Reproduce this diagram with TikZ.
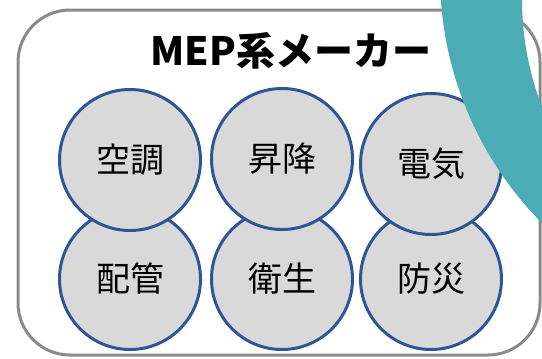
\documentclass[tikz,border=0pt]{standalone}
\usepackage{fontspec}
\newfontfamily\cjk{Noto Sans CJK JP}
\definecolor{framegray}{HTML}{8A8A8A}
\definecolor{ringblue}{HTML}{2F5597}
\definecolor{discgray}{HTML}{D9D9D9}
\definecolor{bandteal}{HTML}{4BACB6}
\tikzset{
  field/.style={circle, draw=ringblue, fill=discgray, line width=3bp,
    minimum size=141bp, inner sep=0pt, font=\cjk\fontsize{34bp}{36bp}\selectfont},
  frame/.style={draw=framegray, line width=3bp, rounded corners=52bp},
}
\begin{document}
\begin{tikzpicture}[x=1bp,y=-1bp]
\useasboundingbox (0,0) rectangle (542,358);
% outer frame
\draw[frame] (18,10) rectangle (540,355);
% title
\node[anchor=base, font=\cjk\bfseries\fontsize{39bp}{41bp}\selectfont] (title) at (291,65) {MEP系メーカー};
% bottom row
\node[field] (haikan) at (130,279) {配管};
\node[field] (eisei) at (282,279) {衛生};
\node[field] (bousai) at (431,279) {防災};
% top row
\node[field] (kucho) at (130,160) {空調};
\node[field] (shoko) at (282,159) {昇降};
\node[field] (denki) at (431,164) {電気};
% teal band
\begin{scope}
\clip (0,0) rectangle (542,358);
\fill[bandteal, even odd rule] (793,-25) circle[radius=353] (822,-1) circle[radius=300];
\end{scope}
\end{tikzpicture}
\end{document}
